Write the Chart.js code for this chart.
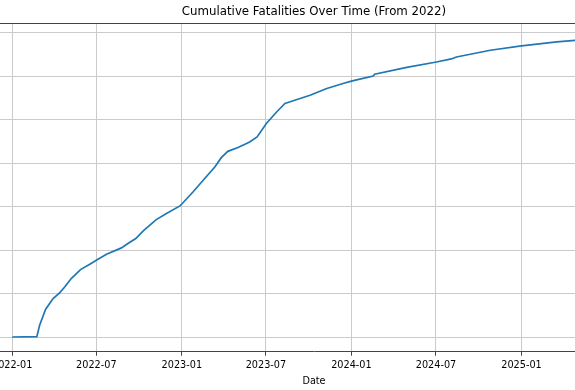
<!DOCTYPE html>
<html>
<head>
<meta charset="utf-8">
<script src="https://cdn.jsdelivr.net/npm/chart.js@4/dist/chart.umd.min.js"></script>
<style>
  html, body { margin: 0; padding: 0; background: #ffffff; overflow: hidden; }
  #wrap { width: 575px; height: 390px; position: relative; overflow: hidden; }
  #c { position: absolute; left: -18px; top: 0; }
</style>
</head>
<body>
<div id="wrap"><canvas id="c" width="664" height="390"></canvas></div>
<script>
// ---- data ----
const dates = [
  '2022-01-01','2022-02-23','2022-03-01','2022-03-14','2022-03-30','2022-04-13','2022-04-24',
  '2022-05-08','2022-05-28','2022-06-17','2022-07-01','2022-07-23','2022-08-24','2022-09-07',
  '2022-09-24','2022-10-10','2022-11-07','2022-11-29','2022-12-28','2023-01-02','2023-01-25',
  '2023-02-16','2023-03-13','2023-03-27','2023-04-10','2023-05-02','2023-05-27','2023-06-12',
  '2023-07-02','2023-07-24','2023-08-11','2023-09-01','2023-10-04','2023-11-09','2023-12-14',
  '2024-01-01','2024-01-19','2024-02-17','2024-02-20','2024-04-29','2024-07-02','2024-08-03',
  '2024-08-14','2024-10-26','2025-01-01','2025-03-18','2025-04-26','2025-07-23'
];
const fatalities = [
  0, 20, 540, 1280, 1770, 2030, 2300,
  2690, 3100, 3350, 3530, 3810, 4100, 4300,
  4530, 4880, 5400, 5680, 6030, 6140, 6670,
  7210, 7820, 8250, 8540, 8720, 8970, 9200,
  9820, 10350, 10740, 10890, 11120, 11430, 11660,
  11770, 11860, 12000, 12090, 12400, 12650, 12790,
  12880, 13190, 13390, 13570, 13640, 13760
];
const tickLabels = ['2022-01','2022-07','2023-01','2023-07','2024-01','2024-07','2025-01','2025-07'];
const titleText = 'Cumulative Fatalities Over Time (From 2022)';
const xAxisTitle = 'Date';

// ---- helpers ----
function toTime(s) {
  const p = s.split('-').map(Number);
  return Date.UTC(p[0], p[1] - 1, p[2] || 1);
}
const tickValues = tickLabels.map(toTime);
const points = dates.map((d, i) => ({ x: toTime(d), y: fatalities[i] }));

const FONT = 'DejaVu Sans';

const topSpine = {
  id: 'topSpine',
  afterDraw(chart) {
    const { ctx, chartArea } = chart;
    ctx.save();
    ctx.strokeStyle = '#444444';
    ctx.lineWidth = 1;
    ctx.beginPath();
    ctx.moveTo(chartArea.left, Math.round(chartArea.top) + 0.5);
    ctx.lineTo(chartArea.right, Math.round(chartArea.top) + 0.5);
    ctx.stroke();
    ctx.restore();
  }
};

new Chart(document.getElementById('c'), {
  type: 'line',
  data: {
    datasets: [{
      data: points,
      borderColor: '#1f77b4',
      borderWidth: 1.7,
      pointRadius: 0,
      fill: false,
      tension: 0
    }]
  },
  options: {
    responsive: false,
    animation: false,
    layout: { padding: { left: 0, right: 0, top: 0, bottom: 0 } },
    plugins: {
      legend: { display: false },
      tooltip: { enabled: false },
      title: {
        display: true,
        text: titleText,
        color: '#000000',
        font: { family: FONT, size: 11.8, weight: 'normal' },
        padding: { top: 5, bottom: 4 }
      }
    },
    scales: {
      x: {
        type: 'linear',
        min: toTime('2021-10-28'),
        max: toTime('2025-09-26'),
        afterBuildTicks(scale) {
          scale.ticks = tickValues.map(v => ({ value: v }));
        },
        ticks: {
          autoSkip: false,
          maxRotation: 0,
          color: '#000000',
          padding: 4,
          font: { family: FONT, size: 9.7 },
          callback(value) {
            const i = tickValues.indexOf(value);
            return i >= 0 ? tickLabels[i] : '';
          }
        },
        grid: {
          color: '#cbcbcb',
          lineWidth: 1,
          tickLength: 4,
          tickColor: '#444444'
        },
        border: { display: true, color: '#444444', width: 1 },
        title: {
          display: true,
          text: xAxisTitle,
          color: '#000000',
          font: { family: FONT, size: 9.7 },
          padding: { top: 0, bottom: 3 }
        }
      },
      y: {
        min: -676,
        max: 14435,
        ticks: { display: false, stepSize: 2000 },
        afterBuildTicks(scale) {
          const t = [];
          for (let v = 0; v <= 14000; v += 2000) t.push({ value: v });
          scale.ticks = t;
        },
        grid: { color: '#cbcbcb', lineWidth: 1, drawTicks: false },
        border: { display: false }
      }
    }
  },
  plugins: [topSpine]
});
</script>
</body>
</html>
